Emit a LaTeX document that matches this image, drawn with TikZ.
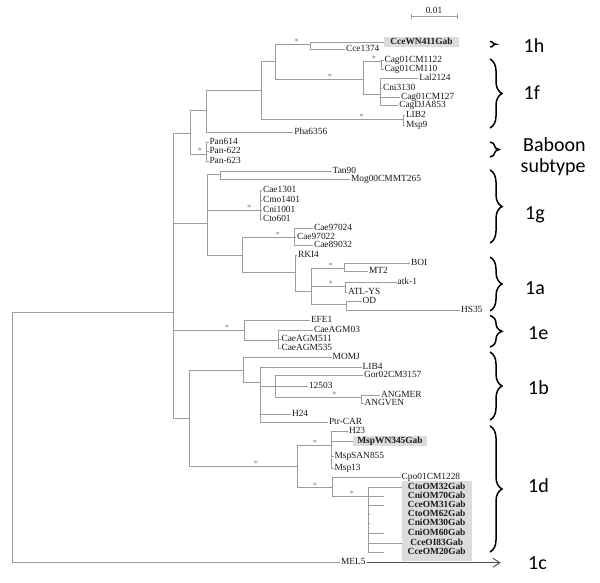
\documentclass[tikz,border=0pt]{standalone}
\usepackage{fontspec}
\newfontfamily\treefont{Liberation Serif}
\newfontfamily\cladefont{Carlito}
\usetikzlibrary{decorations.pathreplacing,arrows.meta}
\definecolor{branchgray}{HTML}{9C9C9C}
\definecolor{boxgray}{HTML}{DCDCDC}
\definecolor{txtdark}{HTML}{1A1A1A}
\definecolor{astgray}{HTML}{808080}
\begin{document}
\begin{tikzpicture}[x=1pt,y=-1pt,
  br/.style={draw=branchgray, line width=0.8pt},
  lf/.style={anchor=west, inner sep=0.8pt, text=txtdark, font=\treefont\fontsize{9.4}{10}\selectfont, text height=6pt, text depth=1.5pt},
  lfb/.style={lf, anchor=center, font=\treefont\bfseries\fontsize{9.4}{10}\selectfont},
  ast/.style={inner sep=0pt, text=astgray, font=\treefont\fontsize{8.5}{8.5}\selectfont},
  cbrace/.style={decorate, decoration={brace, amplitude=#1}, line width=1.5pt, draw=black},
  clade/.style={anchor=base west, inner sep=0pt, text=black, font=\cladefont\fontsize{20}{22}\selectfont},
  gbox/.style={fill=boxgray, draw=none}
]
\useasboundingbox (0,0) rectangle (600,582);
\fill[white] (0,0) rectangle (600,582);

% ---------- internal nodes ----------
\coordinate (R) at (12,312);
\coordinate (M) at (173,312);
\coordinate (A) at (190,133);
\coordinate (B) at (206.7,110.7);
\coordinate (C) at (261.7,90.7);
\coordinate (D) at (275.7,61.7);
\coordinate (E) at (310,44.3);
\coordinate (F) at (363.3,79.3);
\coordinate (G) at (381.7,61.7);
\coordinate (H) at (380,94.3);
\coordinate (I) at (403.3,119.3);
\coordinate (P) at (206.7,154);
\coordinate (J) at (207,223.3);
\coordinate (K) at (220.7,174.3);
\coordinate (L) at (260,210);
\coordinate (N) at (242.7,255);
\coordinate (O) at (294.3,237.3);
\coordinate (Q) at (295,272.7);
\coordinate (S) at (311.7,291.7);
\coordinate (T) at (344.3,268.3);
\coordinate (U) at (345,286);
\coordinate (V) at (346,304.3);
\coordinate (W) at (244,330.7);
\coordinate (X) at (278.3,340.7);
\coordinate (Y) at (189,418);
\coordinate (Z) at (243.3,370.7);
\coordinate (Z2) at (260,382.3);
\coordinate (Z3) at (275.7,386);
\coordinate (Z4) at (361.7,397.3);
\coordinate (D1) at (297.3,466.7);
\coordinate (D2) at (331.7,445.7);
\coordinate (D3) at (332.3,487.3);
\coordinate (D4) at (368.3,496);

\foreach \p/\c in {R/M,M/A,A/B,B/C,C/D,D/E,D/F,F/G,F/H,C/I,A/P,M/J,J/K,J/L,J/N,N/O,N/Q,Q/S,S/T,S/U,S/V,M/W,W/X,M/Y,Y/Z,Z/Z2,Z2/Z3,Z3/Z4,Y/D1,D1/D2,D1/D3,D3/D4}
  \draw[br] (\p) |- (\c);

% ---------- highlight boxes ----------
\fill[gbox] (384,37.3) rectangle (459,47.3);
\fill[gbox] (352.7,436) rectangle (427.3,446);
\fill[gbox] (401.7,480.7) rectangle (471.7,561);

% ---------- scale bar ----------
\coordinate (sbl) at (411,16.5);
\coordinate (sbr) at (457.3,16.5);
\draw[br] ([yshift=2.5pt]sbl) -- ([yshift=-2.5pt]sbl);
\draw[br] ([yshift=2.5pt]sbr) -- ([yshift=-2.5pt]sbr);
\draw[br] (sbl) -- (sbr);
\node[lf, anchor=base] (sblab) at (434,13.8) {0.01};

% ---------- leaves ----------
\coordinate (e411) at (384,42.5);
\draw[br] (E) |- (e411);
\node[lfb] (cce411) at (421.5,42.3) {CceWN411Gab};
\node[lf] (cce1374) at (345,49.3) {Cce1374};  \draw[br] (E) |- (cce1374.west);
\node[lf] (cag1122) at (383.5,60) {Cag01CM1122};  \draw[br] (G) |- (cag1122.west);
\node[lf] (cag110) at (383.5,69) {Cag01CM110};  \draw[br] (G) |- (cag110.west);
\node[lf] (lal) at (418.3,78.3) {Lal2124};  \draw[br] (H) |- (lal.west);
\node[lf] (cni3130) at (382,88) {Cni3130};  \draw[br] (H) |- (cni3130.west);
\node[lf] (cag127) at (400,97) {Cag01CM127};  \draw[br] (H) |- (cag127.west);
\node[lf] (cagdja) at (398.3,105) {CagDJA853};  \draw[br] (H) |- (cagdja.west);
\node[lf] (lib2) at (405,115) {LIB2};  \draw[br] (I) |- (lib2.west);
\node[lf] (msp9) at (405,125) {Msp9};  \draw[br] (I) |- (msp9.west);
\node[lf] (pha) at (293.3,132.7) {Pha6356};  \draw[br] (B) |- (pha.west);
\node[lf] (pan614) at (208.5,142) {Pan614};  \draw[br] (P) |- (pan614.west);
\node[lf] (pan622) at (208.5,151.5) {Pan-622};  \draw[br] (P) |- (pan622.west);
\node[lf] (pan623) at (208.5,161) {Pan-623};  \draw[br] (P) |- (pan623.west);
\node[lf] (tan) at (331.7,171.7) {Tan90};  \draw[br] (K) |- (tan.west);
\node[lf] (mog) at (350,179.3) {Mog00CMMT265};  \draw[br] (K) |- (mog.west);
\node[lf] (cae1301) at (262,190) {Cae1301};  \draw[br] (L) |- (cae1301.west);
\node[lf] (cmo) at (262,200) {Cmo1401};  \draw[br] (L) |- (cmo.west);
\node[lf] (cni1001) at (262,210) {Cni1001};  \draw[br] (L) |- (cni1001.west);
\node[lf] (cto601) at (262,219.5) {Cto601};  \draw[br] (L) |- (cto601.west);
\node[lf] (cae024) at (313,228) {Cae97024};  \draw[br] (O) |- (cae024.west);
\node[lf] (cae022) at (296,237) {Cae97022};  \draw[br] (O) |- (cae022.west);
\node[lf] (cae032) at (313,245.5) {Cae89032};  \draw[br] (O) |- (cae032.west);
\node[lf] (rki) at (297,255) {RKI4};  \draw[br] (Q) |- (rki.west);
\node[lf] (boi) at (410,263.3) {BOI};  \draw[br] (T) |- (boi.west);
\node[lf] (mt2) at (368,271.7) {MT2};  \draw[br] (T) |- (mt2.west);
\node[lf] (atk) at (396.7,282.7) {atk-1};  \draw[br] (U) |- (atk.west);
\node[lf] (atl) at (347,292.7) {ATL-YS};  \draw[br] (U) |- (atl.west);
\node[lf] (od) at (361.7,301.7) {OD};  \draw[br] (V) |- (od.west);
\node[lf] (hs35) at (460,310) {HS35};  \draw[br] (V) |- (hs35.west);
\node[lf] (efe) at (310,320) {EFE1};  \draw[br] (W) |- (efe.west);
\node[lf] (agm03) at (313,330) {CaeAGM03};  \draw[br] (X) |- (agm03.west);
\node[lf] (agm511) at (280.5,339) {CaeAGM511};  \draw[br] (X) |- (agm511.west);
\node[lf] (agm535) at (280.5,348.3) {CaeAGM535};  \draw[br] (X) |- (agm535.west);
\node[lf] (momj) at (331.7,357.3) {MOMJ};  \draw[br] (Z) |- (momj.west);
\node[lf] (lib4) at (361.7,367) {LIB4};  \draw[br] (Z2) |- (lib4.west);
\node[lf] (gor) at (363,375) {Gor02CM3157};  \draw[br] (Z3) |- (gor.west);
\node[lf] (n12503) at (308,386) {12503};  \draw[br] (Z3) |- (n12503.west);
\node[lf] (angmer) at (380,395) {ANGMER};  \draw[br] (Z4) |- (angmer.west);
\node[lf] (angven) at (363.5,403) {ANGVEN};  \draw[br] (Z4) |- (angven.west);
\node[lf] (h24) at (291,414.3) {H24};  \draw[br] (Z2) |- (h24.west);
\node[lf] (ptr) at (328,422.7) {Ptr-CAR};  \draw[br] (Z2) |- (ptr.west);
\node[lf] (h23) at (348,431.7) {H23};  \draw[br] (D2) |- (h23.west);
\coordinate (e345) at (352.7,441);
\draw[br] (D2) |- (e345);
\node[lfb] (msp345) at (390,441) {MspWN345Gab};
\node[lf] (mspsan) at (333.5,456) {MspSAN855};  \draw[br] (D2) |- (mspsan.west);
\node[lf] (msp13) at (333.5,468) {Msp13};  \draw[br] (D2) |- (msp13.west);
\node[lf] (cpo) at (400.7,477.7) {Cpo01CM1228};  \draw[br] (D3) |- (cpo.west);

% Gab cluster
\foreach \n/\xe/\yy/\t in {g1/401.7/487.3/CtoOM32Gab, g2/384/496/CniOM70Gab, g3/384/505.3/CceOM31Gab, g4/370/514.5/CtoOM62Gab, g5/370/523.7/CniOM30Gab, g6/384/533.3/CniOM60Gab, g7/401.7/543.3/CceOI83Gab, g8/384/552.7/CceOM20Gab}{
  \coordinate (e\n) at (\xe,\yy);
  \draw[br] (D4) |- (e\n);
  \node[lfb] (\n) at (436.7,\yy) {\t};
}

% MEL5 outgroup
\node[lf] (mel5) at (340,562.7) {MEL5};
\draw[br] (R) |- (mel5.west);
\coordinate (melend) at (500.7,562.7);
\draw[draw=black!70, line width=0.9pt, -{Straight Barb[length=7pt,width=9pt]}] (mel5.east) -- (melend);

% ---------- bootstrap asterisks ----------
\foreach \n/\ax/\ay in {s1/296.7/41.5, s2/330/76.5, s3/374/59, s4/361.7/116.5, s5/200/151, s6/249.3/207.5, s7/277.7/234.5, s8/330.7/265.5, s9/330.7/283.5, s10/227/328, s11/334.3/395, s12/256/464, s13/315/443, s14/315/485.5, s15/351.7/493.5}
  \node[ast] (\n) at (\ax,\ay) {*};

% ---------- clade braces ----------
\draw[cbrace=6] (490,41.5) -- (490,47);
\draw[cbrace=12] (490,59) -- (490,128);
\draw[cbrace=9] (490,142) -- (490,157);
\draw[cbrace=12] (490,170) -- (490,243);
\draw[cbrace=12] (490,257) -- (490,311);
\draw[cbrace=12] (490,315.5) -- (490,347);
\draw[cbrace=12] (490,352) -- (490,420);
\draw[cbrace=12] (490,426) -- (490,552);

% ---------- clade labels ----------
\node[clade] (l1h) at (523.5,52) {1h};
\node[clade] (l1f) at (523.5,99.5) {1f};
\node[clade] (lbab) at (523,151) {Baboon};
\node[clade] (lsub) at (520.5,172) {subtype};
\node[clade] (l1g) at (525,219) {1g};
\node[clade] (l1a) at (525,294) {1a};
\node[clade] (l1e) at (528,339.5) {1e};
\node[clade] (l1b) at (528,394.5) {1b};
\node[clade] (l1d) at (528,492) {1d};
\node[clade] (l1c) at (528,569) {1c};
\end{tikzpicture}
\end{document}
